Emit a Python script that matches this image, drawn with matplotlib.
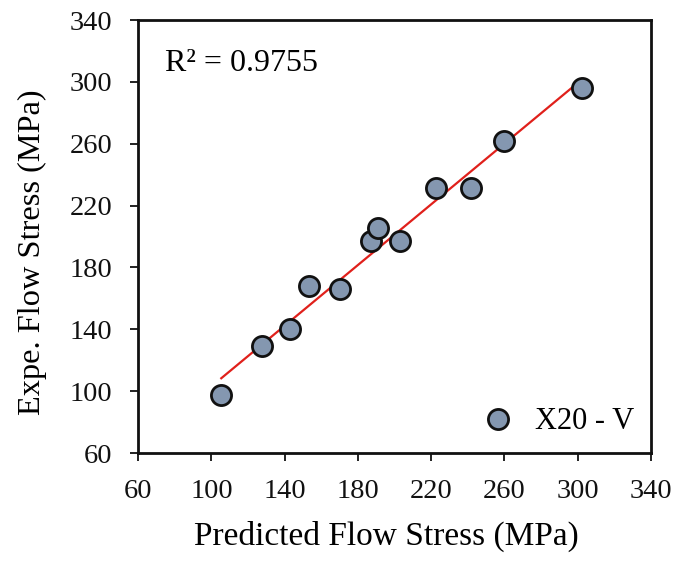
import numpy as np
import matplotlib
matplotlib.use("Agg")
import matplotlib.pyplot as plt

# Predicted vs experimental flow stress, X20 - V (MPa)
predicted = [105.4, 127.4, 143.1, 153.1, 170.2, 186.9, 190.9, 203.0, 222.5, 241.6, 259.5, 302.1]
experimental = [97.7, 129.4, 139.9, 168.1, 165.8, 197.4, 205.6, 197.4, 231.2, 231.2, 262.0, 296.1]
ticks = [60, 100, 140, 180, 220, 260, 300, 340]
series_name = "X20 - V"
r2_label = "R² = 0.9755"

plt.rcParams['font.family'] = ['Liberation Serif', 'DejaVu Serif']

fig = plt.figure(figsize=(6.77, 5.61), dpi=100)
ax = fig.add_axes([0.204, 0.1925, 0.7576, 0.7718])

# linear trendline
coef = np.polyfit(predicted, experimental, 1)
xs = np.array([min(predicted), max(predicted)])
ax.plot(xs, np.polyval(coef, xs), color='#E0201B', lw=1.6, zorder=2)

ax.plot(predicted, experimental, 'o', ms=14.5, mfc='#8497B0', mec='#111111',
        mew=2.0, ls='none', label=series_name, zorder=3)

ax.set_xlim(60, 340)
ax.set_ylim(60, 340)
ax.set_xticks(ticks)
ax.set_yticks(ticks)
ax.tick_params(direction='out', length=5.5, width=1.3, labelsize=20.5, colors='#111111', pad=13)
for s in ax.spines.values():
    s.set_linewidth(2.0)
    s.set_color('#111111')

ax.set_xlabel("Predicted Flow Stress (MPa)", fontsize=24, labelpad=12, x=0.4834)
ax.set_ylabel("Expe. Flow Stress (MPa)", fontsize=23.3, labelpad=16, y=0.464)

ax.text(0.053, 0.90, r2_label, transform=ax.transAxes, fontsize=23, va='center', ha='left')

ax.legend(loc='lower right', frameon=False, fontsize=22, handletextpad=0.6,
          borderaxespad=0.15, handlelength=1.2, markerscale=1.0)

fig.savefig("out.png", dpi=100)
